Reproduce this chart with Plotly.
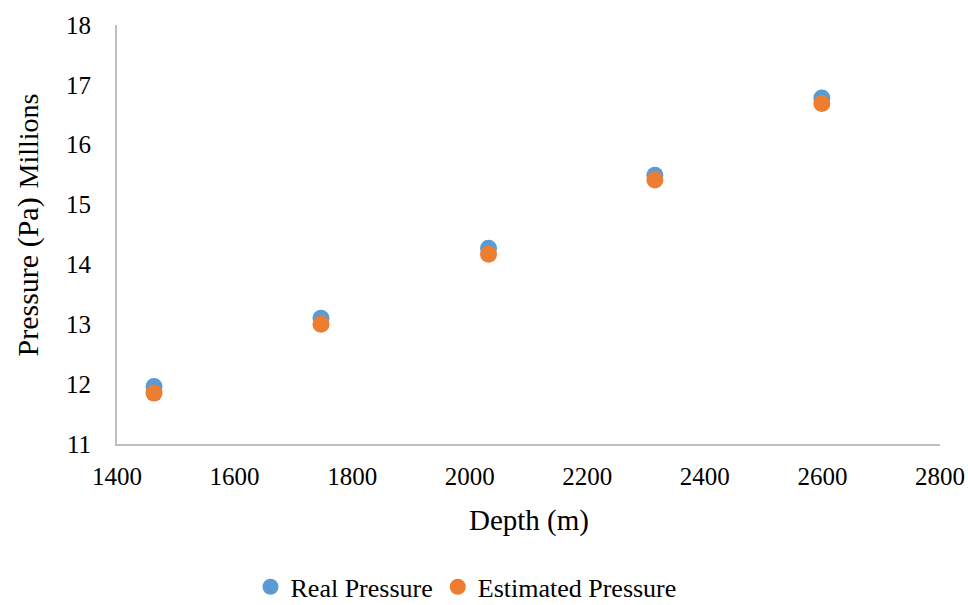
import plotly.graph_objects as go

depth = [1463, 1747, 2032, 2315, 2599]
real_pressure = [11.96, 13.10, 14.27, 15.49, 16.78]
estimated_pressure = [11.85, 13.00, 14.17, 15.41, 16.69]

x_ticks = [1400, 1600, 1800, 2000, 2200, 2400, 2600, 2800]
y_ticks = [11, 12, 13, 14, 15, 16, 17, 18]

font_family = "Liberation Serif, Times New Roman, serif"

fig = go.Figure()
fig.add_trace(go.Scatter(x=depth, y=real_pressure, mode="markers", name="Real Pressure",
                         marker=dict(color="#5B9BD5", size=17)))
fig.add_trace(go.Scatter(x=depth, y=estimated_pressure, mode="markers", name="Estimated Pressure",
                         marker=dict(color="#ED7D31", size=17)))

fig.update_layout(
    width=968, height=605,
    margin=dict(l=117, r=28, t=25, b=161, autoexpand=False),
    paper_bgcolor="white", plot_bgcolor="white",
    font=dict(family=font_family, size=25, color="#000000"),
    showlegend=True,
    legend=dict(orientation="h", x=(466 - 117) / 823, xanchor="center", yref="container",
                y=0.03, yanchor="middle", font=dict(family=font_family, size=26),
                itemwidth=30, tracegroupgap=0),
    xaxis=dict(range=[1400, 2800], tickvals=x_ticks, showgrid=False, zeroline=False,
               showline=True, linecolor="#BFBFBF", linewidth=2, ticks="",
               tickfont=dict(size=25), ticklabelstandoff=9),
    yaxis=dict(range=[11, 18], tickvals=y_ticks, showgrid=False, zeroline=False,
               showline=True, linecolor="#BFBFBF", linewidth=2, ticks="",
               tickfont=dict(size=25), ticklabelstandoff=19),
    annotations=[
        dict(text="Depth (m)", xref="paper", yref="paper", x=0.5, y=(444 - 520) / 419,
             xanchor="center", yanchor="middle", showarrow=False, font=dict(size=29)),
        dict(text="Pressure (Pa)", xref="paper", yref="paper",
             x=(27.5 - 117) / 823, y=(444 - 277) / 419, xanchor="center", yanchor="middle",
             textangle=-90, showarrow=False, font=dict(size=30)),
        dict(text="Millions", xref="paper", yref="paper",
             x=(27.5 - 117) / 823, y=(444 - 141) / 419, xanchor="center", yanchor="middle",
             textangle=-90, showarrow=False, font=dict(size=28)),
    ],
)

fig.write_html("out.html")
